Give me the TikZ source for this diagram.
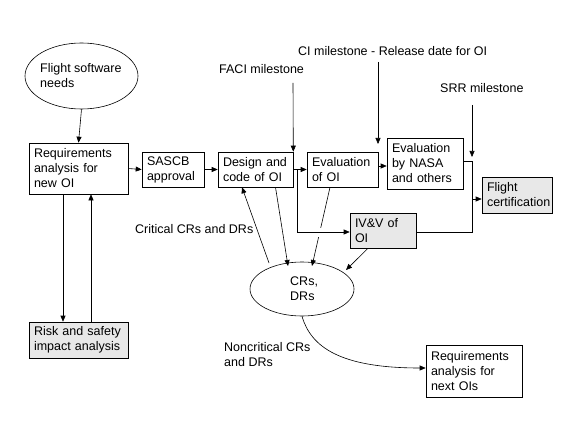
\documentclass[tikz,border=0pt]{standalone}
\usepackage{fontspec}
\setmainfont{Liberation Sans}
\usetikzlibrary{arrows.meta,shapes.geometric}
\newcommand\dfs{\fontsize{12.5}{15}\selectfont}
\tikzset{
  box/.style={draw, rectangle, line width=0.6pt, inner xsep=5pt, inner ysep=1pt, align=left, font=\dfs},
  shaded/.style={fill=black!9},
  oval/.style={draw, ellipse, line width=0.6pt, inner sep=0pt, align=left, font=\dfs},
  lbl/.style={font=\dfs, inner sep=0pt, align=left},
  conn/.style={line width=0.6pt, -{Triangle[length=6pt,width=5pt]}},
  plain/.style={line width=0.6pt}
}
\begin{document}
\begin{tikzpicture}[x=1pt,y=-1pt]
\useasboundingbox (0,0) rectangle (564,422);
% nodes
\node[oval, minimum width=113pt, minimum height=66pt] (fsn) at (81.5,76) {};
\node[lbl, anchor=west] (fsnt) at (40,76) {Flight software\\needs};
\node[box, text width=89pt, minimum height=51pt] (req) at (78.5,168.5) {Requirements\\analysis for\\new OI};
\node[box, text width=52pt, minimum height=35pt] (sascb) at (173,169.5) {SASCB\\approval};
\node[box, text width=65pt, minimum height=35pt] (des) at (255.5,169.5) {Design and\\code of OI};
\node[box, text width=61pt, minimum height=35pt] (evo) at (342.5,169.5) {Evaluation\\of OI};
\node[box, text width=66pt, minimum height=51pt] (nasa) at (425,163.5) {Evaluation\\by NASA\\and others};
\node[box, shaded, text width=60pt, minimum height=36pt] (fc) at (517,195) {Flight\\certification};
\node[box, shaded, text width=56pt, minimum height=35pt] (ivv) at (383,230.5) {IV\&V of\\OI};
\node[oval, minimum width=104pt, minimum height=54pt] (crs) at (302,289) {};
\node[lbl, anchor=west] (crst) at (290,288.5) {CRs,\\DRs};
\node[box, shaded, text width=89pt, minimum height=36pt] (risk) at (78.5,340) {Risk and safety\\impact analysis};
\node[box, text width=86pt, minimum height=52pt] (next) at (474,371) {Requirements\\analysis for\\next OIs};
% labels
\node[lbl, anchor=west] (faci) at (219,69) {FACI milestone};
\node[lbl, anchor=west] (ci) at (298,51) {CI milestone - Release date for OI};
\node[lbl, anchor=west] (srr) at (440,88) {SRR milestone};
\node[lbl, anchor=west] (crit) at (135,229) {Critical CRs and DRs};
\node[lbl, anchor=west] (ncrit) at (224,354.5) {Noncritical CRs\\and DRs};
% coordinates
\coordinate (faciS) at (293,83);
\coordinate (ciS) at (378,62);
\coordinate (ciE) at (378,144);
\coordinate (srrS) at (472,105);
\coordinate (srrE) at (472,157);
\coordinate (br) at (297,170);
\coordinate (jn) at (472,199);
% connectors
\draw[conn] (fsn.south) -- (req.north);
\draw[conn] (req.east) -- (sascb.west);
\draw[conn] (sascb.east) -- (des.west);
\draw[conn] (des.east) -- (evo.west);
\draw[conn] (evo.east |- 0,166) -- (nasa.west |- 0,166);
\draw[conn] ([xshift=-15.5pt]req.south) -- ([xshift=-15.5pt]risk.north);
\draw[conn] ([xshift=12.5pt]risk.north) -- ([xshift=12.5pt]req.south);
\draw[conn] (faciS) -- (des.north east);
\draw[conn] (ciS) -- (ciE);
\draw[conn] (srrS) -- (srrE);
\draw[plain] (nasa.east |- 0,161) -| (jn);
\draw[plain] (ivv.east |- 0,232) -| (jn);
\draw[conn] (jn) -- (fc.west |- jn);
\draw[conn] ([xshift=20pt]des.south) -- (288,266);
\draw[conn] ([xshift=-12.5pt]evo.south) -- (312,266);
\draw[white, line width=9pt] (311,232) -- (326,232);
\draw[conn] (br) |- (ivv.west |- 0,232);
\draw[conn] ([xshift=-15pt]ivv.south) -- (346,270);
\draw[conn] (269,263) -- ([xshift=-13.5pt]des.south);
\draw[conn] (crs.south) .. controls (311,347) and (340,368) .. (next.west |- 0,368);
\end{tikzpicture}
\end{document}
